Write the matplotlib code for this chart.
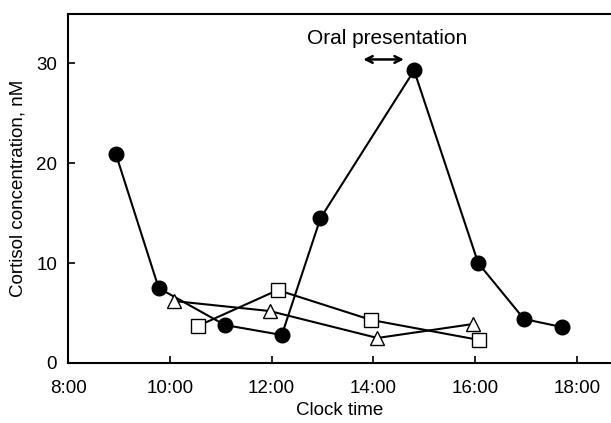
import matplotlib
matplotlib.use("Agg")
import matplotlib.pyplot as plt

plt.rcParams['font.family'] = ['Liberation Sans', 'DejaVu Sans']

# Clock times in decimal hours, cortisol in nM
circle_time = [8.94, 9.78, 11.08, 12.2, 12.96, 14.8, 16.06, 16.96, 17.7]
circle_cort = [20.9, 7.5, 3.8, 2.8, 14.5, 29.3, 10.0, 4.4, 3.6]

triangle_time = [10.08, 11.96, 14.08, 15.96]
triangle_cort = [6.2, 5.2, 2.5, 3.9]

square_time = [10.55, 12.12, 13.96, 16.08]
square_cort = [3.7, 7.3, 4.3, 2.3]

xticks = [8, 10, 12, 14, 16, 18]
xtick_labels = ["8:00", "10:00", "12:00", "14:00", "16:00", "18:00"]
yticks = [0, 10, 20, 30]

presentation_start, presentation_end = 13.8, 14.6

fig = plt.figure(figsize=(6.11, 4.23), dpi=100)
ax = fig.add_axes([0.1115, 0.142, 0.8885, 0.826])

ax.plot(circle_time, circle_cort, '-o', color='black', lw=1.5,
        ms=10.5, mfc='black', mec='black', zorder=3)
ax.plot(triangle_time, triangle_cort, '-^', color='black', lw=1.5,
        ms=10.5, mfc='white', mec='black', mew=1.0, zorder=3)
ax.plot(square_time, square_cort, '-s', color='black', lw=1.5,
        ms=10, mfc='white', mec='black', mew=1.0, zorder=3)

ax.annotate('', xy=(presentation_start, 30.4), xytext=(presentation_end, 30.4),
            arrowprops=dict(arrowstyle='<->', color='black', lw=1.8,
                            mutation_scale=12, shrinkA=0, shrinkB=0))
ax.text(14.26, 32.5, 'Oral presentation', ha='center', va='center', fontsize=15)

ax.set_xlim(8, 18.67)
ax.set_ylim(0, 35)
ax.set_xticks(xticks)
ax.set_xticklabels(xtick_labels)
ax.set_yticks(yticks)
ax.tick_params(direction='in', length=5, width=1.2, labelsize=13.5)
ax.tick_params(axis='x', pad=12)
ax.tick_params(axis='y', pad=8)
for side in ['left', 'bottom', 'top']:
    ax.spines[side].set_linewidth(1.5)
ax.spines['right'].set_visible(False)

ax.set_xlabel('Clock time', fontsize=13.5, labelpad=4)
ax.set_ylabel('Cortisol concentration, nM', fontsize=13.5, labelpad=7)

fig.savefig('out.png', dpi=100)
